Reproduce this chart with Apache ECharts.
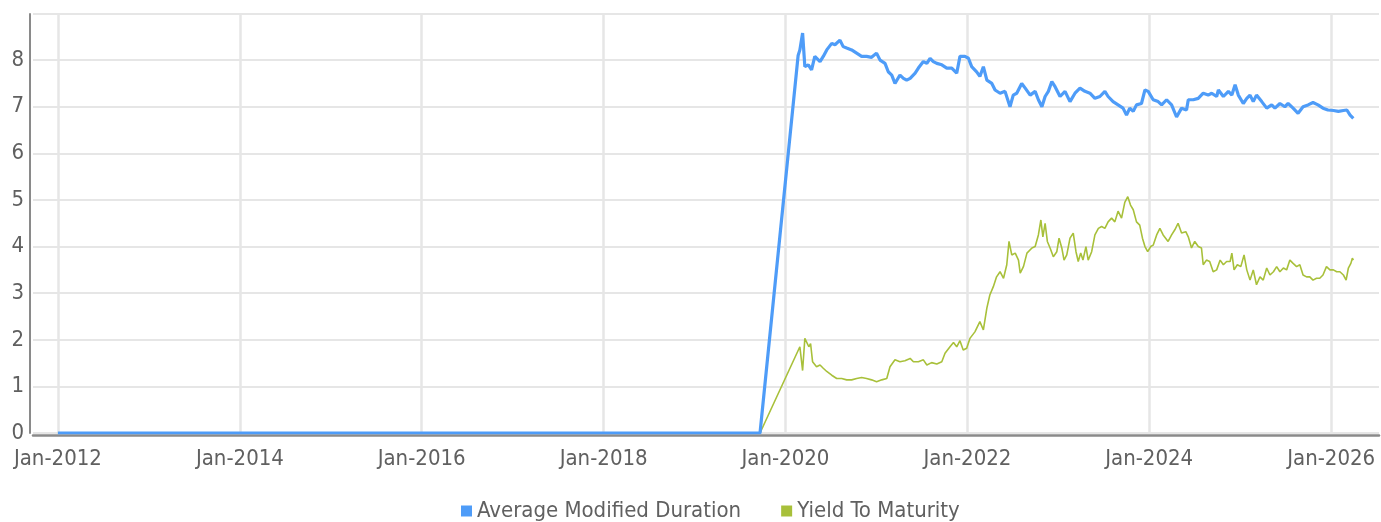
<!DOCTYPE html>
<html>
<head>
<meta charset="utf-8">
<script src="https://cdn.jsdelivr.net/npm/echarts@6/dist/echarts.min.js"></script>
<style>
html,body{margin:0;padding:0;background:#fff;}
#chart{width:1381px;height:522px;}
</style>
</head>
<body>
<div id="chart"></div>
<script>
var seriesNames = ['Average Modified Duration', 'Yield To Maturity'];
var tickYears = [2012, 2014, 2016, 2018, 2020, 2022, 2024, 2026];

var durationDates = ['2012-01-01','2019-09-21','2020-02-21','2020-02-28','2020-03-10','2020-03-19','2020-04-02','2020-04-15','2020-04-28','2020-05-19','2020-06-01','2020-06-15','2020-07-05','2020-07-18','2020-08-07','2020-08-20','2020-09-03','2020-09-23','2020-10-13','2020-11-02','2020-11-22','2020-12-12','2021-01-01','2021-01-15','2021-02-04','2021-02-17','2021-03-03','2021-03-16','2021-04-05','2021-04-19','2021-05-02','2021-05-16','2021-06-05','2021-06-18','2021-07-08','2021-07-22','2021-08-04','2021-08-17','2021-08-31','2021-09-20','2021-10-10','2021-10-30','2021-11-19','2021-12-02','2021-12-22','2022-01-05','2022-01-18','2022-02-07','2022-02-20','2022-03-06','2022-03-20','2022-04-09','2022-04-22','2022-05-12','2022-06-01','2022-06-21','2022-07-04','2022-07-18','2022-08-07','2022-08-21','2022-09-10','2022-09-30','2022-10-13','2022-10-27','2022-11-09','2022-11-22','2022-12-06','2022-12-19','2023-01-08','2023-01-28','2023-02-17','2023-03-09','2023-03-29','2023-04-18','2023-05-08','2023-05-28','2023-06-17','2023-07-07','2023-07-20','2023-08-09','2023-08-29','2023-09-18','2023-10-02','2023-10-15','2023-10-29','2023-11-11','2023-12-01','2023-12-15','2023-12-28','2024-01-17','2024-02-06','2024-02-20','2024-03-11','2024-03-31','2024-04-20','2024-05-10','2024-05-30','2024-06-06','2024-06-26','2024-07-16','2024-08-05','2024-08-25','2024-09-08','2024-09-28','2024-10-05','2024-10-25','2024-11-14','2024-11-28','2024-12-11','2024-12-24','2025-01-13','2025-01-27','2025-02-09','2025-02-22','2025-03-07','2025-03-28','2025-04-17','2025-05-07','2025-05-20','2025-06-09','2025-06-29','2025-07-12','2025-08-01','2025-08-21','2025-09-10','2025-09-30','2025-10-20','2025-11-09','2025-11-29','2025-12-19','2026-01-10','2026-01-30','2026-02-19','2026-03-05','2026-03-18','2026-03-31'];
var durationValues = [0,0,8.10,8.22,8.58,7.86,7.90,7.79,8.08,7.97,8.08,8.22,8.36,8.33,8.43,8.29,8.26,8.22,8.15,8.08,8.08,8.06,8.15,8.00,7.93,7.75,7.68,7.50,7.68,7.61,7.57,7.61,7.72,7.83,7.97,7.93,8.04,7.97,7.93,7.90,7.83,7.83,7.72,8.08,8.08,8.04,7.86,7.75,7.65,7.86,7.57,7.50,7.36,7.29,7.33,7.00,7.25,7.29,7.50,7.40,7.25,7.33,7.15,7.00,7.22,7.33,7.54,7.43,7.22,7.33,7.11,7.29,7.40,7.33,7.29,7.18,7.22,7.33,7.22,7.11,7.04,6.97,6.82,6.97,6.90,7.04,7.07,7.36,7.33,7.15,7.11,7.04,7.15,7.04,6.78,6.97,6.93,7.15,7.15,7.18,7.29,7.25,7.29,7.22,7.36,7.22,7.33,7.25,7.47,7.25,7.07,7.18,7.25,7.11,7.25,7.11,6.97,7.04,6.97,7.07,7.00,7.07,6.97,6.86,7.00,7.04,7.09,7.04,6.97,6.93,6.92,6.90,6.92,6.93,6.82,6.75];

var ytmDates = ['2012-01-01','2019-09-21','2020-02-28','2020-03-10','2020-03-19','2020-03-27','2020-04-04','2020-04-11','2020-04-19','2020-05-05','2020-05-19','2020-06-01','2020-06-15','2020-07-05','2020-07-25','2020-08-14','2020-09-03','2020-09-23','2020-10-13','2020-11-02','2020-11-22','2020-12-12','2021-01-01','2021-01-22','2021-02-11','2021-02-24','2021-03-16','2021-04-05','2021-04-25','2021-05-16','2021-05-29','2021-06-18','2021-07-08','2021-07-22','2021-08-10','2021-08-31','2021-09-20','2021-10-03','2021-10-23','2021-11-06','2021-11-19','2021-12-02','2021-12-15','2021-12-29','2022-01-11','2022-01-31','2022-02-20','2022-03-06','2022-03-20','2022-04-01','2022-04-15','2022-04-28','2022-05-12','2022-05-26','2022-06-08','2022-06-17','2022-06-28','2022-07-12','2022-07-25','2022-08-01','2022-08-14','2022-08-28','2022-09-17','2022-09-30','2022-10-13','2022-10-23','2022-10-31','2022-11-09','2022-11-18','2022-11-29','2022-12-12','2022-12-26','2023-01-04','2023-01-15','2023-01-24','2023-02-04','2023-02-17','2023-03-02','2023-03-13','2023-03-22','2023-04-01','2023-04-10','2023-04-22','2023-05-01','2023-05-15','2023-05-28','2023-06-11','2023-06-24','2023-07-07','2023-07-20','2023-08-03','2023-08-16','2023-08-29','2023-09-12','2023-09-25','2023-10-07','2023-10-18','2023-10-29','2023-11-11','2023-11-24','2023-12-05','2023-12-15','2023-12-26','2024-01-07','2024-01-17','2024-01-31','2024-02-13','2024-02-26','2024-03-04','2024-03-17','2024-03-31','2024-04-13','2024-04-26','2024-05-10','2024-05-27','2024-06-06','2024-06-19','2024-07-02','2024-07-16','2024-07-29','2024-08-05','2024-08-18','2024-08-31','2024-09-14','2024-09-28','2024-10-12','2024-10-25','2024-11-07','2024-11-21','2024-11-28','2024-12-07','2024-12-20','2025-01-03','2025-01-16','2025-01-27','2025-02-09','2025-02-22','2025-03-07','2025-03-21','2025-04-03','2025-04-17','2025-04-30','2025-05-14','2025-05-27','2025-06-09','2025-06-23','2025-07-06','2025-07-19','2025-08-01','2025-08-15','2025-08-28','2025-09-10','2025-09-24','2025-10-07','2025-10-20','2025-11-03','2025-11-16','2025-11-29','2025-12-13','2025-12-27','2026-01-10','2026-01-23','2026-02-05','2026-02-19','2026-03-02','2026-03-11','2026-03-21','2026-03-27','2026-03-31'];
var ytmValues = [0,0,1.85,1.34,2.03,2.05,1.85,1.92,1.53,1.42,1.46,1.39,1.32,1.24,1.17,1.17,1.14,1.14,1.17,1.19,1.17,1.14,1.10,1.14,1.17,1.42,1.57,1.53,1.55,1.60,1.53,1.53,1.57,1.46,1.51,1.48,1.53,1.71,1.85,1.94,1.85,1.98,1.78,1.82,2.03,2.17,2.39,2.21,2.68,2.96,3.14,3.35,3.46,3.32,3.61,4.11,3.82,3.86,3.71,3.43,3.57,3.86,3.97,4.00,4.25,4.57,4.21,4.50,4.11,3.97,3.78,3.89,4.18,3.97,3.71,3.82,4.18,4.29,3.89,3.68,3.86,3.71,4.00,3.71,3.89,4.25,4.39,4.43,4.39,4.53,4.61,4.53,4.76,4.61,4.95,5.07,4.89,4.79,4.53,4.46,4.18,4.00,3.89,4.00,4.03,4.25,4.39,4.25,4.21,4.11,4.25,4.36,4.50,4.29,4.32,4.21,3.97,4.11,4.00,3.97,3.61,3.71,3.68,3.46,3.50,3.71,3.61,3.68,3.68,3.86,3.50,3.61,3.57,3.82,3.50,3.28,3.50,3.18,3.35,3.28,3.54,3.39,3.46,3.57,3.46,3.54,3.50,3.71,3.64,3.57,3.61,3.39,3.35,3.35,3.28,3.32,3.32,3.39,3.57,3.50,3.50,3.46,3.46,3.39,3.28,3.54,3.64,3.75,3.71];

function ts(s) { var p = s.split('-'); return Date.UTC(+p[0], +p[1] - 1, +p[2]); }
function pairs(dates, vals) { return dates.map(function (d, i) { return [ts(d), vals[i]]; }); }
var tickValues = tickYears.map(function (y) { return Date.UTC(y, 0, 1); });

var FONT = "'DejaVu Sans Condensed', 'Liberation Sans Narrow', sans-serif";
var TXT = '#606060';
var chart = echarts.init(document.getElementById('chart'), null, { renderer: 'canvas' });
chart.setOption({
  animation: false,
  color: ['#4e9cf8', '#a8c03a'],
  grid: { left: 33, right: 2, top: 14, bottom: 89, containLabel: false, outerBoundsMode: 'none' },
  legend: {
    data: seriesNames,
    bottom: -5,
    left: 456,
    icon: 'rect',
    itemWidth: 11,
    itemHeight: 11,
    itemGap: 40,
    textStyle: { fontFamily: FONT, fontSize: 22, color: TXT }
  },
  xAxis: {
    type: 'value',
    min: Date.UTC(2011, 8, 23),
    max: Date.UTC(2026, 6, 12),
    offset: 2,
    axisLine: { show: true, onZero: false, lineStyle: { color: '#8a8a8a', width: 2.5 } },
    axisTick: { show: false, customValues: tickValues },
    splitLine: { show: true, lineStyle: { color: '#e6e6e6', width: 2.5 } },
    axisLabel: {
      customValues: tickValues,
      fontFamily: FONT, fontSize: 22, color: TXT, margin: 13,
      formatter: function (v) { return 'Jan-' + new Date(v).getUTCFullYear(); }
    }
  },
  yAxis: {
    type: 'value',
    min: 0,
    max: 8.99,
    interval: 1,
    offset: 3,
    axisLine: { show: true, lineStyle: { color: '#8a8a8a', width: 2 } },
    axisTick: { show: false },
    splitLine: { show: true, lineStyle: { color: '#e6e6e6', width: 2 } },
    axisLabel: {
      fontFamily: FONT, fontSize: 22, color: TXT, margin: 6, showMaxLabel: false,
      formatter: function (v) { return Math.abs(v - Math.round(v)) < 1e-6 ? String(Math.round(v)) : ''; }
    }
  },
  series: [
    {
      name: seriesNames[0], type: 'line', z: 3, showSymbol: false, symbol: 'none',
      lineStyle: { width: 3.2, color: '#4e9cf8' },
      data: pairs(durationDates, durationValues)
    },
    {
      name: seriesNames[1], type: 'line', z: 2, showSymbol: false, symbol: 'none',
      lineStyle: { width: 1.6, color: '#a8c03a' },
      data: pairs(ytmDates, ytmValues)
    }
  ]
});
</script>
</body>
</html>
